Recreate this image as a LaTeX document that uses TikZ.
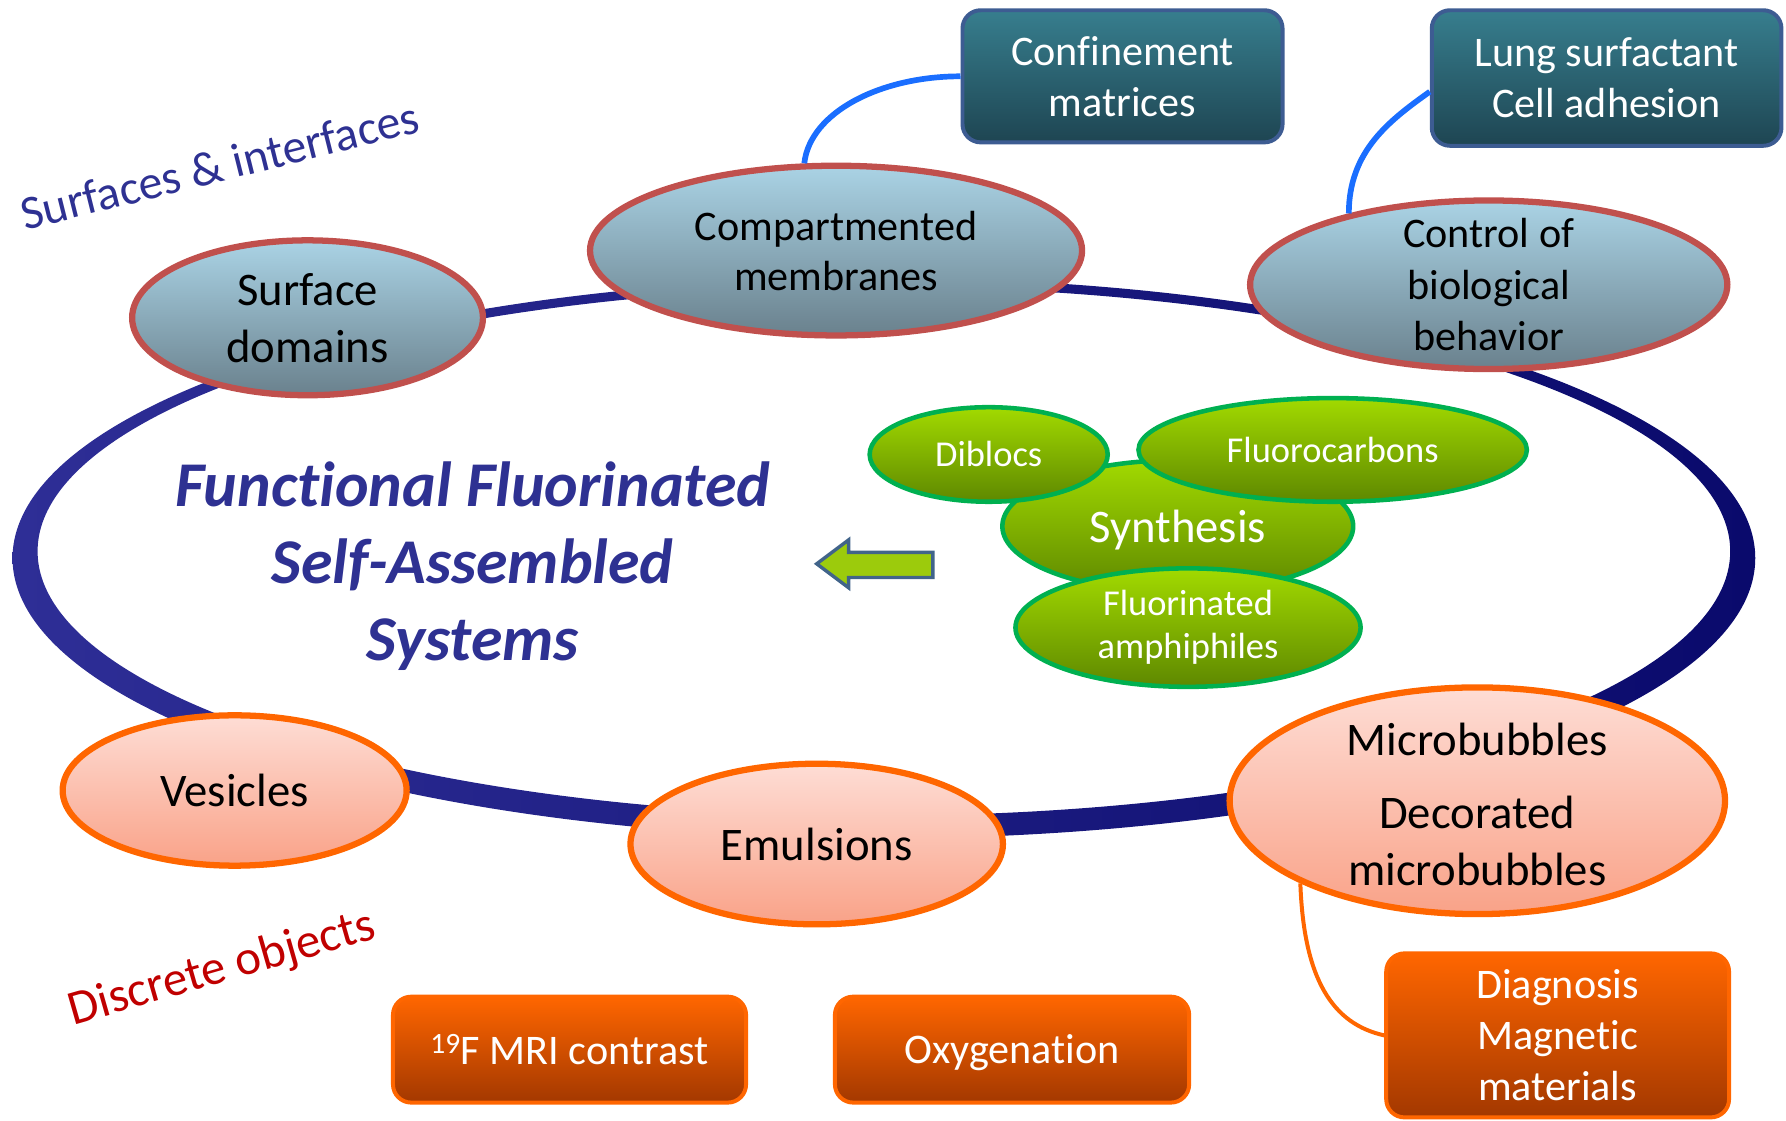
\documentclass[tikz,border=0pt]{standalone}
\usepackage{fontspec}
\setmainfont{Carlito}[Ligatures=NoCommon]
\usetikzlibrary{calc,shapes.geometric}
\definecolor{ringL}{HTML}{2E2E96}
\definecolor{ringR}{HTML}{0A0A6C}
\definecolor{redb}{HTML}{C0504D}
\definecolor{bluetop}{HTML}{AAD3E5}
\definecolor{bluebot}{HTML}{6A818D}
\definecolor{tealtop}{HTML}{377E8E}
\definecolor{tealbot}{HTML}{1E4552}
\definecolor{tealb}{HTML}{3D5C92}
\definecolor{greentop}{HTML}{A2DA00}
\definecolor{greenbot}{HTML}{5E8800}
\definecolor{greenb}{HTML}{00B050}
\definecolor{salmtop}{HTML}{FEDDD5}
\definecolor{salmbot}{HTML}{F9A288}
\definecolor{orb}{HTML}{FF6600}
\definecolor{ortop}{HTML}{FF6600}
\definecolor{orbot}{HTML}{A33800}
\definecolor{titleblue}{HTML}{2E3192}
\definecolor{darkred}{HTML}{C00000}
\definecolor{conblue}{HTML}{1A6EFF}
\definecolor{arrfill}{HTML}{9CCB0C}
\definecolor{arrb}{HTML}{41648A}
\begin{document}
\begin{tikzpicture}[x=1pt,y=-1pt,
  blueell/.style={ellipse, draw=redb, line width=5.5pt, top color=bluetop, bottom color=bluebot, inner sep=0pt},
  salmell/.style={ellipse, draw=orb, line width=5.5pt, top color=salmtop, bottom color=salmbot, inner sep=0pt},
  greenell/.style={ellipse, draw=greenb, line width=4pt, top color=greentop, bottom color=greenbot, inner sep=0pt},
  tealbox/.style={rectangle, rounded corners=16pt, draw=tealb, line width=3.5pt, top color=tealtop, bottom color=tealbot, inner sep=0pt},
  orbox/.style={rectangle, rounded corners=16pt, draw=orb, line width=3.5pt, top color=ortop, bottom color=orbot, inner sep=0pt},
  lbl/.style={align=center, inner sep=0pt, text=black},
  wlbl/.style={align=center, inner sep=0pt, text=white},
  bluecon/.style={draw=conblue, line width=5pt},
  orcon/.style={draw=orb, line width=3.5pt}]
\useasboundingbox (0,0) rectangle (1568,984);

% ring
\shade[left color=ringL, right color=ringR, even odd rule]
  (776,490) ellipse [x radius=765pt, y radius=246pt]
  (776,484) ellipse [x radius=743pt, y radius=232pt];

% blue ellipses
\node[blueell, minimum width=308pt, minimum height=136pt] (sd) at (270,279) {};
\node[blueell, minimum width=432pt, minimum height=149pt] (comp) at (734,220) {};
\node[blueell, minimum width=419pt, minimum height=148pt] (ctrl) at (1307,250) {};
\node[lbl, font=\fontsize{41}{50}\selectfont] (sdt) at (sd.center) {Surface\\domains};
\node[lbl, font=\fontsize{37}{44}\selectfont] (compt) at (comp.center) {Compartmented\\membranes};
\node[lbl, font=\fontsize{37}{45}\selectfont] (ctrlt) at (ctrl.center) {Control of\\biological\\behavior};

% teal boxes
\node[tealbox, minimum width=281pt, minimum height=116pt] (conf) at (985.5,67) {};
\node[tealbox, minimum width=307pt, minimum height=119pt] (lung) at (1410.5,68.5) {};
\node[wlbl, font=\fontsize{37}{45}\selectfont] (conft) at (conf.center) {Confinement\\matrices};
\node[wlbl, font=\fontsize{37}{45}\selectfont] (lungt) at (lung.center) {Lung surfactant\\Cell adhesion};

% blue connectors
\coordinate (lungw) at ($(lung.west)+(0,12)$);
\draw[bluecon] (comp.110) .. controls ($(comp.110)+(5,-45)$) and ($(conf.west)+(-70,0)$) .. (conf.west);
\draw[bluecon] (ctrl.153) .. controls ($(ctrl.153)+(0,-55)$) and ($(lungw)+(-35,25)$) .. (lungw);

% green cluster
\node[greenell, minimum width=308pt, minimum height=116pt] (syn) at (1034,462) {};
\node[greenell, minimum width=209pt, minimum height=83pt] (dib) at (868,399) {};
\node[greenell, minimum width=341pt, minimum height=91pt] (fc) at (1170,395) {};
\node[greenell, minimum width=303pt, minimum height=104pt] (fa) at (1043,551) {};
\node[wlbl, font=\fontsize{41}{50}\selectfont] (synt) at (1034,465) {Synthesis};
\node[wlbl, font=\fontsize{32}{38}\selectfont] (dibt) at (dib.center) {Diblocs};
\node[wlbl, font=\fontsize{32}{38}\selectfont] (fct) at (fc.center) {Fluorocarbons};
\node[wlbl, font=\fontsize{32}{38}\selectfont] (fat) at (fa.center) {Fluorinated\\amphiphiles};

% arrow
\draw[draw=arrb, fill=arrfill, line width=3pt, line join=miter]
  (717,495) -- (745,474) -- (745,485) -- (819,485) -- (819,507) -- (745,507) -- (745,516) -- cycle;

% title
\node[align=center, inner sep=0pt, text=titleblue, font=\fontsize{56}{68}\selectfont\bfseries\itshape] (title) at (415,497)
  {Functional Fluorinated\\Self-Assembled\\Systems};

% side labels
\node[inner sep=0pt, text=titleblue, rotate=14, font=\fontsize{42}{48}\selectfont] (surf) at (193,145) {Surfaces \& interfaces};
\node[inner sep=0pt, text=darkred, rotate=16, font=\fontsize{43}{48}\selectfont] (disc) at (195,851) {Discrete objects};

% salmon ellipses
\node[salmell, minimum width=302pt, minimum height=132pt] (ves) at (206,694) {};
\node[salmell, minimum width=327pt, minimum height=141pt] (emu) at (717,741) {};
\node[salmell, minimum width=435pt, minimum height=199pt] (micro) at (1297,703) {};
\node[lbl, font=\fontsize{41}{50}\selectfont] (vest) at (ves.center) {Vesicles};
\node[lbl, font=\fontsize{41}{50}\selectfont] (emut) at (emu.center) {Emulsions};
\node[lbl, font=\fontsize{41}{50}\selectfont] (microt) at (1297,706) {Microbubbles\\[14pt]Decorated\\microbubbles};

% orange boxes
\node[orbox, minimum width=310pt, minimum height=93pt] (mri) at (500,921.5) {};
\node[orbox, minimum width=311pt, minimum height=93pt] (oxy) at (888.5,921.5) {};
\node[orbox, minimum width=301pt, minimum height=144pt] (diag) at (1367.5,909) {};
\node[wlbl, font=\fontsize{37}{45}\selectfont] (mrit) at (mri.center) {\textsuperscript{19}F MRI contrast};
\node[wlbl, font=\fontsize{37}{45}\selectfont] (oxyt) at (888.5,924) {Oxygenation};
\node[wlbl, font=\fontsize{37}{45}\selectfont] (diagt) at (diag.center) {Diagnosis\\Magnetic\\materials};

% orange connector
\draw[orcon] (micro.205) .. controls ($(micro.205)+(3,85)$) and ($(diag.west)+(-45,-10)$) .. (diag.west);
\end{tikzpicture}
\end{document}
